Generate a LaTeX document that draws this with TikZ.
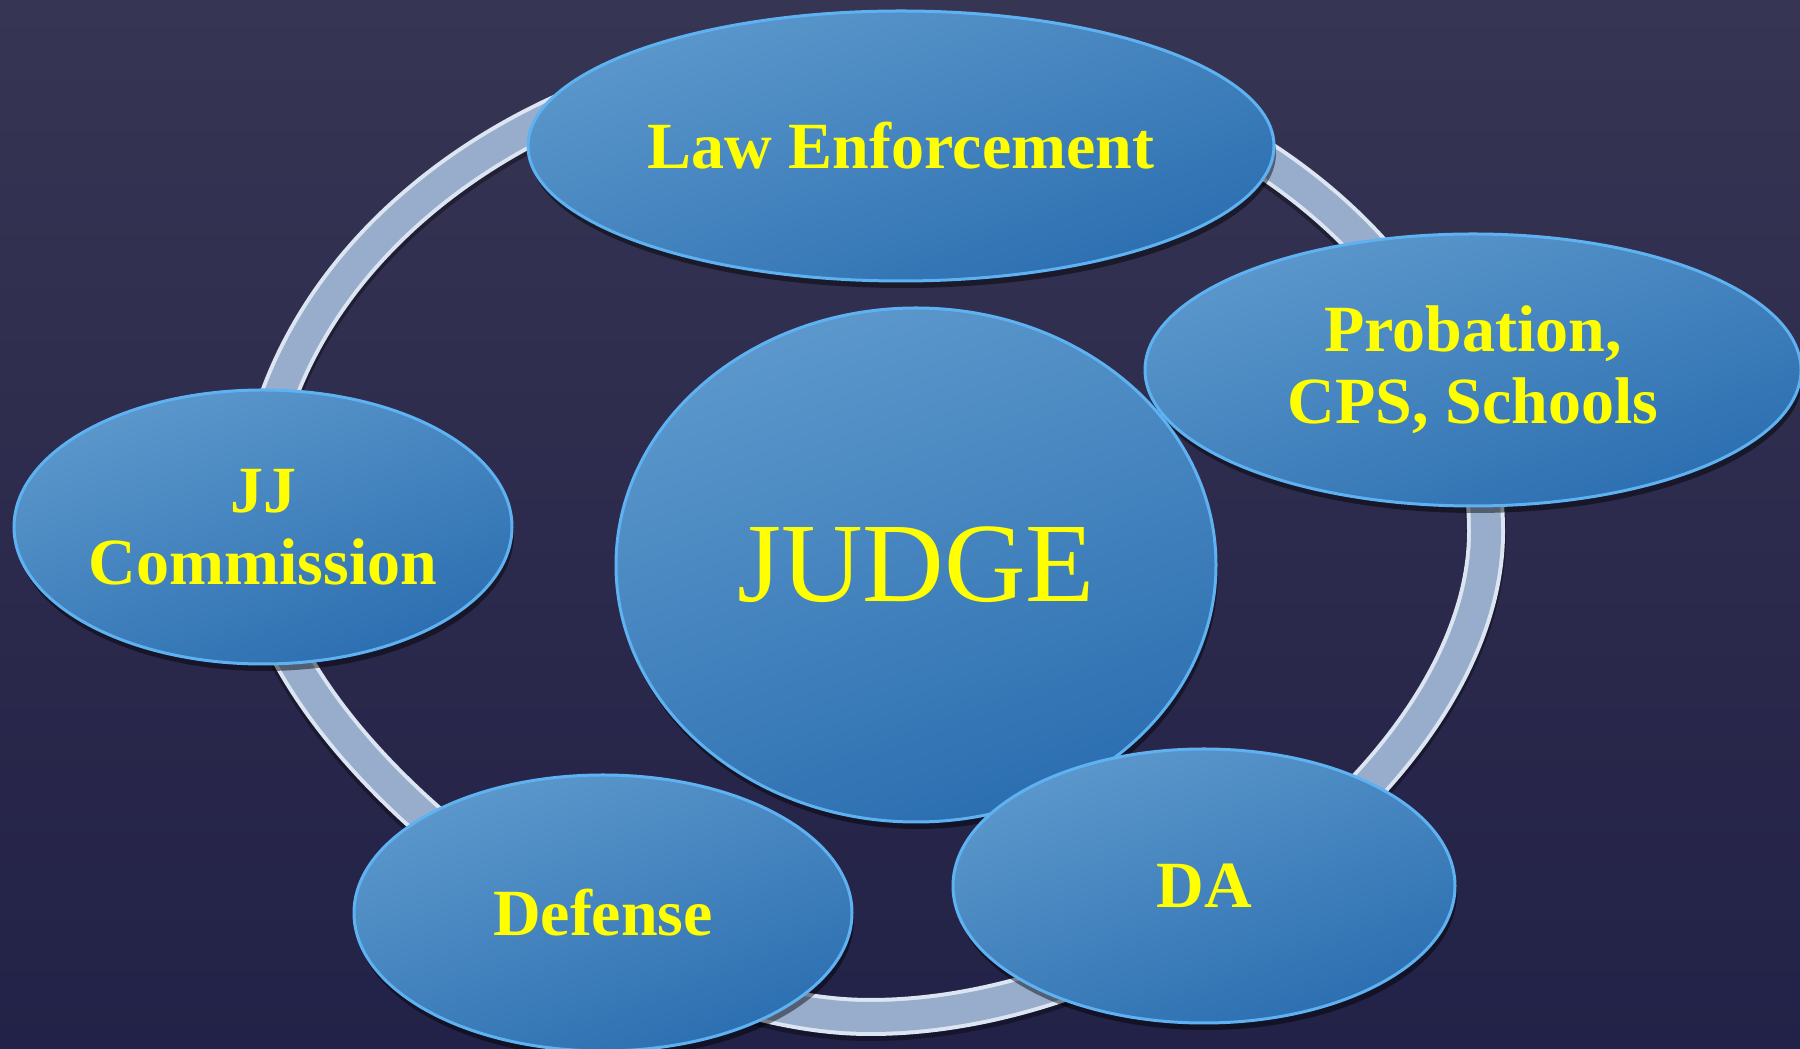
\documentclass[tikz,border=0pt]{standalone}
\usepackage{fontspec}
\setmainfont{Liberation Serif}
\usetikzlibrary{shapes.geometric,shadows}
\definecolor{bgtop}{HTML}{363553}
\definecolor{bgbot}{HTML}{222147}
\definecolor{ringcol}{HTML}{98ADCC}
\definecolor{ringedge}{HTML}{DCE5F2}
\definecolor{blobtop}{HTML}{5C98CC}
\definecolor{blobbot}{HTML}{2B6EB0}
\definecolor{blobline}{HTML}{5EB2F2}
\definecolor{txtyellow}{HTML}{FFFF00}
\tikzset{
  blob/.style={shape=ellipse, draw=blobline, line width=3pt,
    top color=blobtop, bottom color=blobbot, shading angle=20,
    inner sep=0pt, text=txtyellow, align=center,
    drop shadow={opacity=0.45, fill=black, shadow xshift=2pt, shadow yshift=-7pt},
    font=\fontsize{66}{72}\selectfont\bfseries},
  judgefont/.style={font=\fontsize{113}{116}\selectfont}
}
\def\ringpath{(1486,517) .. controls (1486,289) and (1160,32) .. (870,32)
    .. controls (611,32) and (254,313) .. (254,517)
    arc[start angle=180, end angle=0, x radius=616, y radius=485] -- cycle}
\begin{document}
\begin{tikzpicture}[x=1pt,y=1pt]
    \useasboundingbox (0,0) rectangle (1800,1049);
    \shade[top color=bgtop, bottom color=bgbot] (0,0) rectangle (1800,1049);
    % ring behind the bubbles
    \draw[black, opacity=0.35, line width=40pt, yshift=-4pt] \ringpath;
    \draw[ringedge, line width=38pt] \ringpath;
    \draw[ringcol, line width=30pt] \ringpath;
    \node[blob, minimum width=746, minimum height=270] (law) at (901,903) {Law Enforcement};
    \node[blob, minimum width=656, minimum height=272] (prob) at (1473,679) {Probation,\\CPS, Schools};
    \node[blob, minimum width=498, minimum height=274] (jj) at (263,522) {JJ\\Commission};
    \node[blob, judgefont, minimum width=600, minimum height=514] (judge) at (916,484) {JUDGE};
    \node[blob, minimum width=498, minimum height=276] (def) at (603,136) {Defense};
    \node[blob, minimum width=502, minimum height=274] (da) at (1204,163) {DA};
\end{tikzpicture}
\end{document}
